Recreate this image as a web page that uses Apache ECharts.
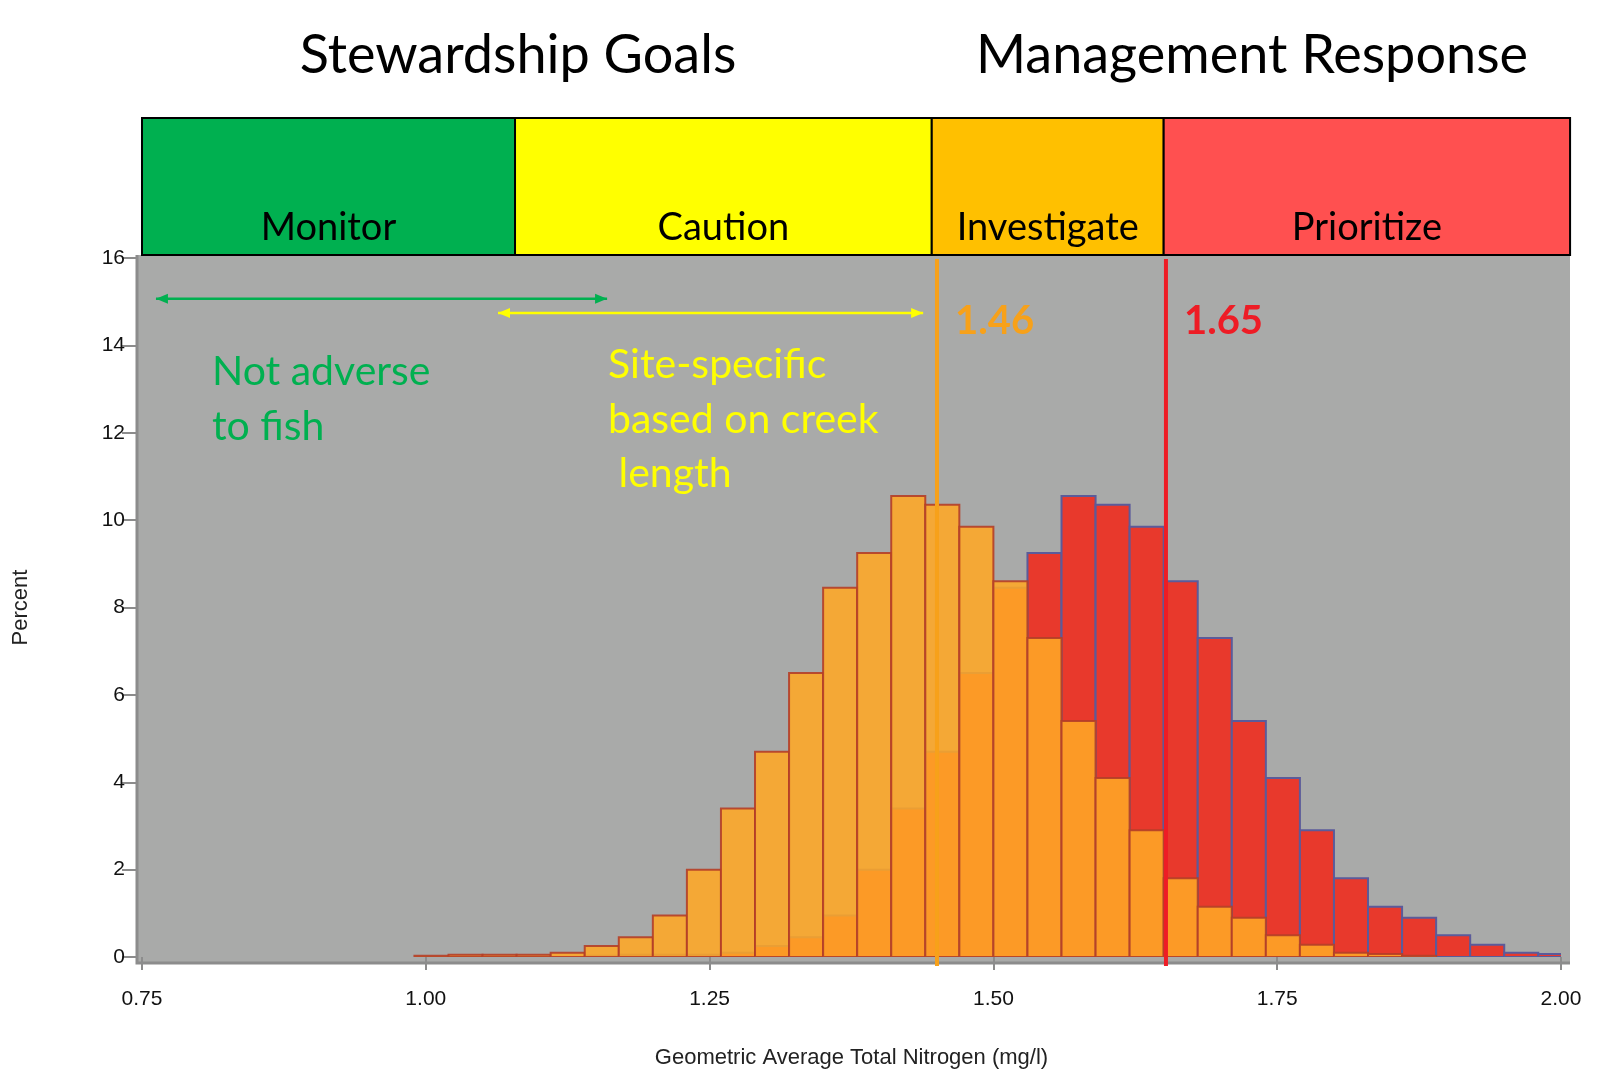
<!DOCTYPE html>
<html>
<head>
<meta charset="utf-8">
<script src="https://cdn.jsdelivr.net/npm/echarts@6/dist/echarts.min.js"></script>
<style>html,body{margin:0;padding:0;background:#fff}#chart{width:1601px;height:1089px}</style>
</head>
<body>
<div id="chart"></div>
<script>
// histogram bins (width 0.03) starting at 0.99
const binStart = 0.99
const binWidth = 0.03
const orangeValues = [0.03, 0.05, 0.05, 0.05, 0.1, 0.25, 0.45, 0.95, 2.0, 3.4, 4.7, 6.5, 8.45, 9.25, 10.55, 10.35, 9.85, 8.6, 7.3, 5.4, 4.1, 2.9, 1.8, 1.15, 0.9, 0.5, 0.28, 0.1, 0.07, 0.03]
// red starts at bin index 5
const redOffset = 5
const redValues = [0.03, 0.05, 0.05, 0.05, 0.1, 0.25, 0.45, 0.95, 2.0, 3.4, 4.7, 6.5, 8.45, 9.25, 10.55, 10.35, 9.85, 8.6, 7.3, 5.4, 4.1, 2.9, 1.8, 1.15, 0.9, 0.5, 0.28, 0.1, 0.07, 0.03]
const xTicks = ['0.75', '1.00', '1.25', '1.50', '1.75', '2.00']
const zones = [
  { name: 'Monitor', from: 0.75, to: 1.0786, color: '#00b050' },
  { name: 'Caution', from: 1.0786, to: 1.4457, color: '#ffff00' },
  { name: 'Investigate', from: 1.4457, to: 1.650, color: '#ffc000' },
  { name: 'Prioritize', from: 1.650, to: 2.008, color: '#ff5050' }
]
const thresholds = [
  { x: 1.4503, label: '1.46', color: '#f7a11a' },
  { x: 1.652, label: '1.65', color: '#ee1c25' }
]

function toBins(values, offset) {
  return values.map((v, i) => [binStart + (i + offset) * binWidth, binStart + (i + offset + 1) * binWidth, v])
}

function barSeries(name, data, fill, stroke) {
  return {
    name, type: 'custom', clip: true, data,
    encode: { x: [0, 1], y: 2 },
    renderItem(params, api) {
      const p0 = api.coord([api.value(0), api.value(2)])
      const p1 = api.coord([api.value(1), 0])
      return {
        type: 'rect',
        shape: { x: p0[0], y: p0[1], width: p1[0] - p0[0], height: p1[1] - p0[1] },
        style: { fill, stroke, lineWidth: 2 }
      }
    }
  }
}

const chart = echarts.init(document.getElementById('chart'))
chart.setOption({
  animation: false,
  grid: { left: 142, right: 40, top: 258, bottom: 132 },
  xAxis: {
    type: 'value', min: 0.75, max: 2.0, interval: 0.25, offset: 6,
    name: 'Geometric Average Total Nitrogen (mg/l)', nameLocation: 'middle', nameGap: 84,
    nameTextStyle: { fontFamily: 'Liberation Sans', fontSize: 22, color: '#222' },
    axisLine: { show: false }, splitLine: { show: false },
    axisTick: { show: true, length: 13, lineStyle: { color: '#8c8c8c', width: 2 } },
    axisLabel: { fontFamily: 'Liberation Sans', fontSize: 21, color: '#111', margin: 26,
      formatter: v => xTicks.find(t => Math.abs(parseFloat(t) - v) < 1e-6) || '' }
  },
  yAxis: {
    type: 'value', min: 0, max: 16, interval: 2, offset: 5,
    name: 'Percent', nameLocation: 'middle', nameGap: 105, nameRotate: 90,
    nameTextStyle: { fontFamily: 'Liberation Sans', fontSize: 22, color: '#222' },
    axisLine: { show: false }, splitLine: { show: false },
    axisTick: { show: true, length: 15, lineStyle: { color: '#8c8c8c', width: 2 } },
    axisLabel: { fontFamily: 'Liberation Sans', fontSize: 21, color: '#111', margin: 12 }
  },
  series: [
    barSeries('red', toBins(redValues, redOffset), '#e8392c', '#5b5b9a'),
    barSeries('orange', toBins(orangeValues, 0), 'rgba(254,167,38,0.88)', 'rgba(180,62,40,0.9)')
  ]
})

// decorations placed through the chart's own scale
const px = (x, y) => chart.convertToPixel({ gridIndex: 0 }, [x, y])
const plotL = 137, plotR = 1570, plotT = 255, plotB = 963
const bandT = 118
const g = []
g.push({ type: 'rect', z: -10, shape: { x: plotL, y: plotT, width: plotR - plotL, height: plotB - plotT }, style: { fill: '#a9aaa9' } })
g.push({ type: 'polyline', z: 10, shape: { points: [[plotL, plotT], [plotL, plotB], [plotR, plotB]] }, style: { stroke: '#8c8c8c', lineWidth: 3, fill: null } })
zones.forEach(zn => {
  const a = Math.max(px(zn.from, 0)[0], plotL), b = px(zn.to, 0)[0]
  g.push({ type: 'rect', shape: { x: a, y: bandT, width: b - a, height: plotT - bandT }, style: { fill: zn.color, stroke: '#000', lineWidth: 2 } })
  g.push({ type: 'text', x: (a + b) / 2, y: 228, style: { text: zn.name, font: '38px Lato', fill: '#000', align: 'center', verticalAlign: 'middle' } })
})
g.push({ type: 'text', x: 518, y: 56, style: { text: 'Stewardship Goals', font: '54px Lato', fill: '#000', align: 'center', verticalAlign: 'middle' } })
g.push({ type: 'text', x: 1252, y: 56, style: { text: 'Management Response', font: '54px Lato', fill: '#000', align: 'center', verticalAlign: 'middle' } })
thresholds.forEach(t => {
  const x = px(t.x, 0)[0]
  g.push({ type: 'line', z: 20, shape: { x1: x, y1: 259, x2: x, y2: 966 }, style: { stroke: t.color, lineWidth: 4 } })
  g.push({ type: 'text', z: 20, x: x + 18, y: 321, style: { text: t.label, font: 'bold 40px Lato', fill: t.color, verticalAlign: 'middle' } })
})
function arrow(x1, x2, y, color) {
  const a = px(x1, y), b = px(x2, y)
  g.push({ type: 'line', z: 20, shape: { x1: a[0], y1: a[1], x2: b[0], y2: b[1] }, style: { stroke: color, lineWidth: 2.5 } })
  g.push({ type: 'polygon', z: 20, shape: { points: [[a[0], a[1]], [a[0] + 12, a[1] - 5], [a[0] + 12, a[1] + 5]] }, style: { fill: color } })
  g.push({ type: 'polygon', z: 20, shape: { points: [[b[0], b[1]], [b[0] - 12, b[1] - 5], [b[0] - 12, b[1] + 5]] }, style: { fill: color } })
}
arrow(0.7623, 1.1597, 15.07, '#00b050')
arrow(1.0636, 1.4381, 14.74, '#ffff00')
const texts = [
  ['Not adverse', 212, 372, '#00b050'], ['to fish', 212, 427, '#00b050'],
  ['Site-specific', 608, 365, '#ffff00'], ['based on creek', 608, 420, '#ffff00'], [' length', 608, 474, '#ffff00']
]
texts.forEach(t => g.push({ type: 'text', z: 20, x: t[1], y: t[2], style: { text: t[0], font: '41px Lato', fill: t[3], verticalAlign: 'middle' } }))
chart.setOption({ graphic: g })
</script>
</body>
</html>
